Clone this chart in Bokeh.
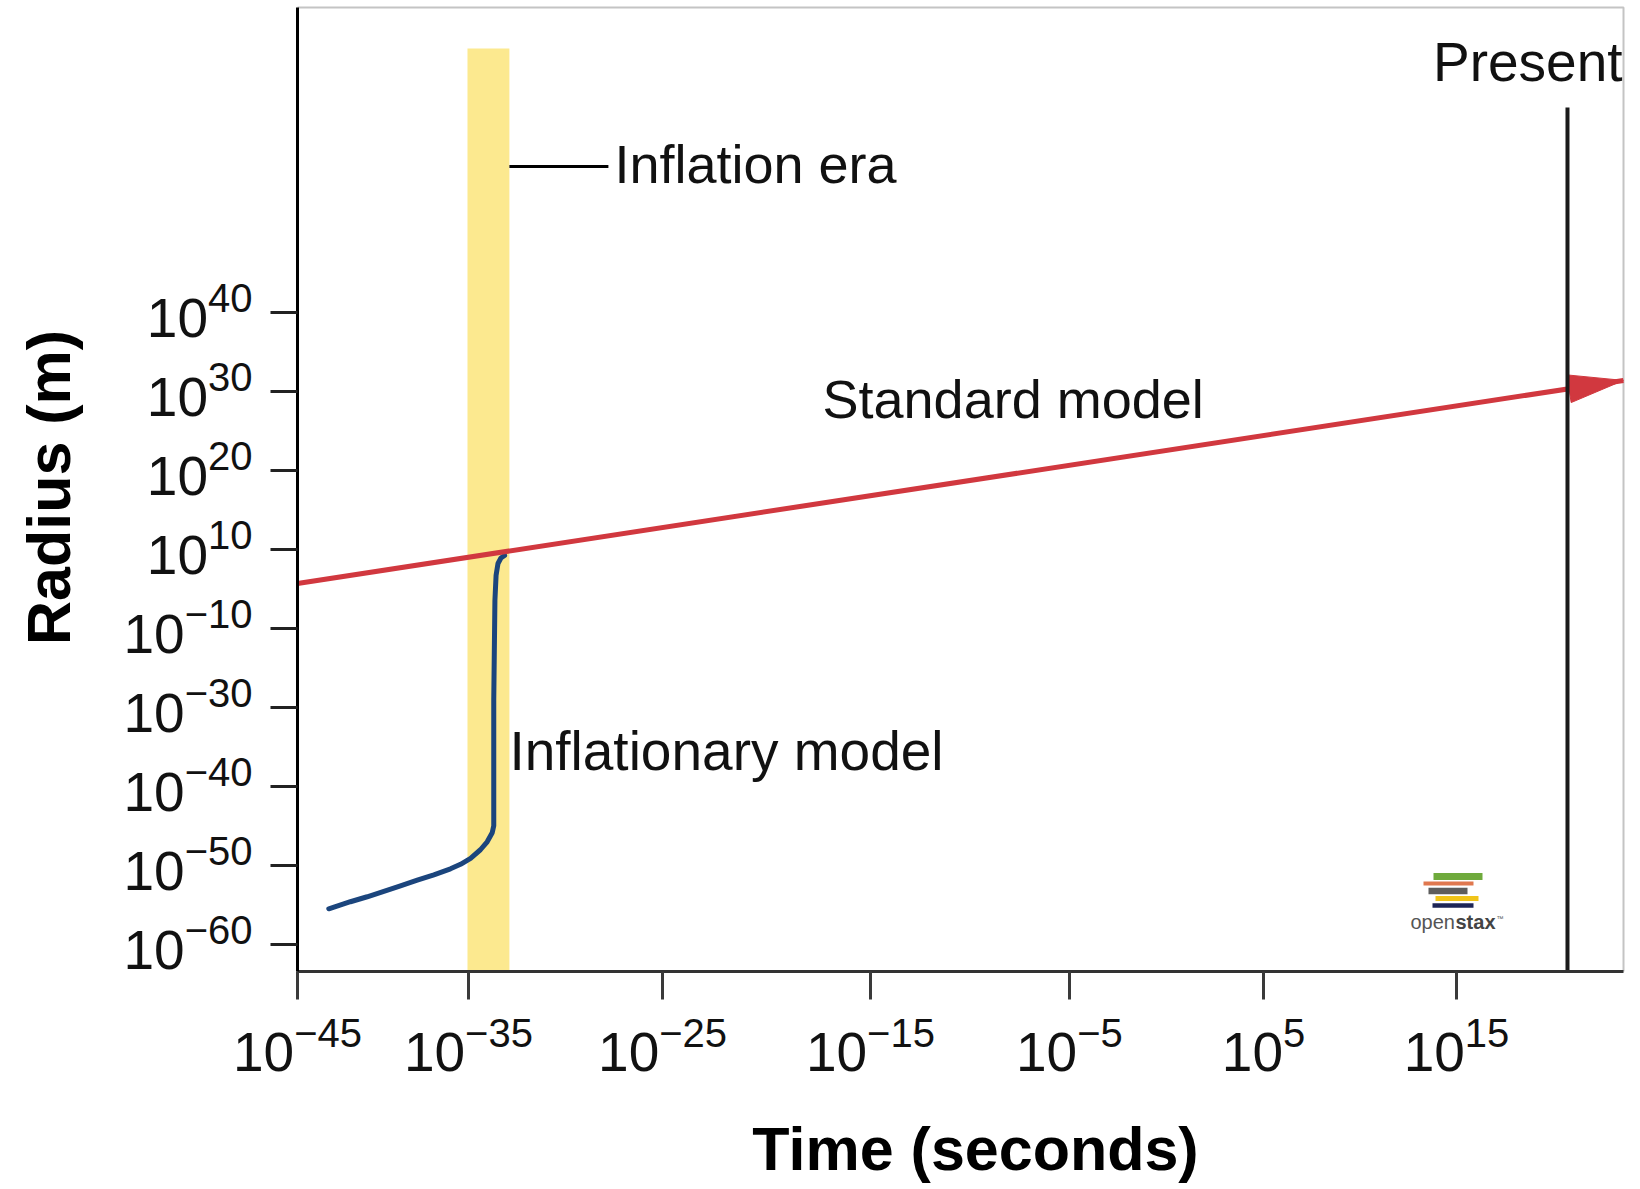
import math
from bokeh.plotting import figure
from bokeh.models import Range1d, FixedTicker, Label, CustomJSTickFormatter
from bokeh.embed import file_html
from bokeh.resources import INLINE

# ---------------- data (schematic coordinates) ----------------
# x : log10(time / s) along the schematic time axis
# y : radius "slot" - one slot per labelled tick of the (schematic) radius axis
X_TICK_POS = [-45.0, -36.15, -26.10, -15.34, -5.04, 5.01, 15.0]
X_TICK_EXP = ["\u221245", "\u221235", "\u221225", "\u221215", "\u22125", "5", "15"]
Y_TICK_POS = [0, 1, 2, 3, 4, 5, 6, 7, 8]
Y_TICK_EXP = ["\u221260", "\u221250", "\u221240", "\u221230", "\u221210", "10", "20", "30", "40"]

STANDARD_T = [-45.0, 23.64]
STANDARD_R = [4.57, 7.14]

INFLATIONARY_T = [-43.38, -42.26, -41.39, -40.53, -39.67, -38.80, -37.94, -37.08, -36.56,
                  -36.04, -35.53, -35.18, -34.92, -34.84, -34.84, -34.84, -34.78, -34.72,
                  -34.62, -34.47, -34.28]
INFLATIONARY_R = [0.452, 0.541, 0.604, 0.673, 0.743, 0.813, 0.882, 0.958, 1.015,
                  1.091, 1.199, 1.300, 1.414, 1.503, 1.658, 3.089, 4.354, 4.671,
                  4.823, 4.892, 4.924]

INFLATION_ERA_T = [-36.20, -34.03]
INFLATION_ERA_TOP = 11.34
PRESENT_T = 20.745
PRESENT_TOP = 10.595

# plot box (axes spines) and the visible window in data units
X_START, X_END = -45.0, 23.645
Y_START, Y_TOP = -0.342, 11.861
X_VIEW = (-60.375, 23.80)
Y_VIEW = (-3.089, 11.949)

W, H = 1626, 1188
KX = W / (X_VIEW[1] - X_VIEW[0])   # px per x unit
KY = H / (Y_VIEW[1] - Y_VIEW[0])   # px per y unit

FONT = "Liberation Sans"
TXT = "#111111"
BASE_FIX = 0.385   # Label baseline correction (fraction of font size)

p = figure(width=W, height=H, x_range=Range1d(*X_VIEW), y_range=Range1d(*Y_VIEW),
           output_backend="svg", toolbar_location=None,
           min_border_left=0, min_border_right=0, min_border_top=0, min_border_bottom=0)
p.xgrid.visible = False
p.ygrid.visible = False
p.background_fill_color = "white"
p.border_fill_color = "white"
p.outline_line_color = None

blank = CustomJSTickFormatter(code="return ''")
p.xaxis.ticker = FixedTicker(ticks=X_TICK_POS, minor_ticks=[])
p.yaxis.ticker = FixedTicker(ticks=Y_TICK_POS, minor_ticks=[])
p.xaxis.fixed_location = Y_START
p.yaxis.fixed_location = X_START
p.xaxis.bounds = (X_START, X_END)
p.yaxis.bounds = (Y_START, Y_TOP)
for ax in (p.xaxis, p.yaxis):
    ax.formatter = blank
    ax.major_label_text_font_size = "1px"
    ax.major_tick_in = 0
    ax.minor_tick_line_color = None
    ax.major_tick_line_width = 3
p.xaxis.major_tick_out = 28
p.yaxis.major_tick_out = 27
p.xaxis.axis_line_color = "#333333"
p.xaxis.axis_line_width = 3
p.xaxis.major_tick_line_color = "#3a3a3a"
p.yaxis.axis_line_color = "#000000"
p.yaxis.axis_line_width = 3
p.yaxis.major_tick_line_color = "#222222"

# light frame on the top and right of the plot box
p.line([X_START, X_END, X_END], [Y_TOP, Y_TOP, Y_START], line_color="#c4c4c4", line_width=2)

# ---------------- marks ----------------
p.quad(left=[INFLATION_ERA_T[0]], right=[INFLATION_ERA_T[1]], bottom=[Y_START], top=[INFLATION_ERA_TOP],
       fill_color="#fce98f", line_color=None)

p.line(INFLATIONARY_T, INFLATIONARY_R, line_color="#1b457d", line_width=5,
       line_join="round", line_cap="round")

p.line(STANDARD_T, STANDARD_R, line_color="#d1383f", line_width=5)
# arrow head at the end of the standard-model line
dxp = (STANDARD_T[-1] - STANDARD_T[-2]) * KX
dyp = (STANDARD_R[-1] - STANDARD_R[-2]) * KY
L = math.hypot(dxp, dyp)
ux, uy = dxp / L, dyp / L
nx, ny = -uy, ux
HEAD_LEN, HEAD_HALF = 55, 14
bx = -HEAD_LEN * ux
by = -HEAD_LEN * uy
hx = [STANDARD_T[-1],
      STANDARD_T[-1] + (bx + HEAD_HALF * nx) / KX,
      STANDARD_T[-1] + (bx - HEAD_HALF * nx) / KX]
hy = [STANDARD_R[-1],
      STANDARD_R[-1] + (by + HEAD_HALF * ny) / KY,
      STANDARD_R[-1] + (by - HEAD_HALF * ny) / KY]
p.patch(hx, hy, fill_color="#d1383f", line_color="#d1383f", line_width=1)

p.line([PRESENT_T, PRESENT_T], [Y_START, PRESENT_TOP], line_color="#1a1a1a", line_width=4)

# leader line from the inflation band to its label
p.line([INFLATION_ERA_T[1], INFLATION_ERA_T[1] + 99 / KX], [9.848, 9.848], line_color="#000000", line_width=3)


def lab(text, x, y, size, align="left", xo=0, yo=0, bold=False, color=TXT, angle=0.0):
    fix = BASE_FIX * size
    if angle:
        xo -= fix
    else:
        yo += fix
    p.add_layout(Label(x=x, y=y, x_offset=xo, y_offset=yo, text=text, text_font=FONT,
                       text_font_size=f"{size}px", text_align=align, text_baseline="alphabetic",
                       text_font_style="bold" if bold else "normal", text_color=color, angle=angle))


# annotations
lab("Inflation era", INFLATION_ERA_T[1] + 105 / KX, 9.620, 54)
lab("Standard model", -17.82, 6.646, 54)
lab("Inflationary model", INFLATION_ERA_T[1], 2.177, 55)
lab("Present", X_END, 10.899, 55, align="right", xo=-1)

# tick labels (base "10" plus superscript exponent)
F10, FEXP = 55, 40
W10 = 1.112 * F10


def exp_width(s):
    return sum(0.584 if ch == "\u2212" else 0.556 for ch in s) * FEXP


for pos, e in zip(X_TICK_POS, X_TICK_EXP):
    tot = W10 + exp_width(e)
    j = -tot / 2 + W10
    lab("10", pos, Y_START, F10, align="right", xo=j, yo=-102)
    lab(e, pos, Y_START, FEXP, align="left", xo=j, yo=-77)

for pos, e in zip(Y_TICK_POS, Y_TICK_EXP):
    j = -45 - exp_width(e)
    lab("10", X_START, pos, F10, align="right", xo=j, yo=-27)
    lab(e, X_START, pos, FEXP, align="left", xo=j, yo=-1)

# axis titles
lab("Time (seconds)", -9.90, Y_START, 61, align="center", yo=-201, bold=True, color="#000000")
lab("Radius (m)", X_START, 5.785, 61, align="center", xo=-225, bold=True, color="#000000", angle=math.pi / 2)


# openstax watermark (decoration), placed in reference pixels relative to the plot box
def gx(px):
    return X_START + (px - 297) / KX


def gy(py):
    return Y_START + (971 - py) / KY


LOGO = [(1433, 1482, 876, 7, "#6faa3c"), (1423, 1473, 883, 4, "#e0784f"),
        (1428, 1467, 890.5, 6.5, "#5d5d5d"), (1435, 1478, 898, 5, "#f0c419"),
        (1432, 1473, 905, 4.5, "#1d2556")]
for x0, x1, yy, lw, c in LOGO:
    p.segment(x0=[gx(x0)], y0=[gy(yy)], x1=[gx(x1)], y1=[gy(yy)], line_color=c, line_width=lw)
lab("open", gx(1410), gy(929), 20, color="#555555")
lab("stax", gx(1455), gy(929), 20, bold=True, color="#444444")
lab("\u2122", gx(1496), gy(921), 7, color="#555555")

open("out.html", "w").write(file_html(p, INLINE))
